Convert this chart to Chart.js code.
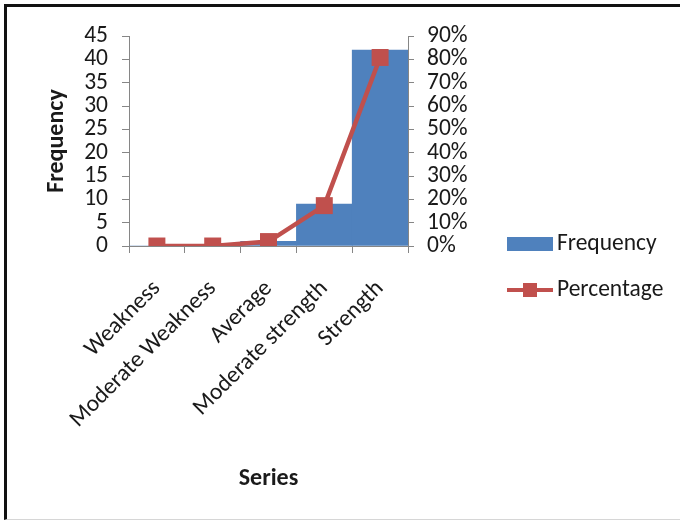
<!DOCTYPE html>
<html>
<head>
<meta charset="utf-8">
<script src="https://cdn.jsdelivr.net/npm/chart.js@4/dist/chart.umd.min.js"></script>
<style>
  html, body { margin: 0; padding: 0; background: #fff; }
  #wrap { position: relative; width: 680px; height: 522px; overflow: hidden; background: #fff; }
  #wrap canvas { position: absolute; left: 0; top: 0; }
  #frame {
    position: absolute; left: 4px; top: 4px; width: 676px; height: 516px;
    box-sizing: border-box;
    border-top: 3px solid #111; border-left: 3px solid #111;
    border-bottom: 1px solid #d6d6d6;
    pointer-events: none;
  }
</style>
</head>
<body>
<div id="wrap">
  <canvas id="chart" width="680" height="522"></canvas>
  <div id="frame"></div>
</div>
<script>
// Rating categories and their counts / cumulative shares
const categories = ['Weakness', 'Moderate Weakness', 'Average', 'Moderate strength', 'Strength'];
const frequency = [0, 0, 1, 9, 42];
const percentage = [0, 0, 1.9, 17.3, 80.8];

// Axis tick ranges
const freqAxis = { min: 0, max: 45, step: 5 };
const pctAxis = { min: 0, max: 90, step: 10 };

const FONT = 'Carlito, Lato, "Liberation Sans", sans-serif';
const TICK_SIZE = 23.5;
const TITLE_SIZE = 24;
const AXIS_GREY = '#868686';
const TEXT = '#1a1a1a';
const BLUE = '#4F81BD';
const RED = '#C0504D';

// Legend drawn to the right of the plot, one row per dataset
const sideLegend = {
  id: 'sideLegend',
  afterDraw(chart) {
    const ctx = chart.ctx;
    const x0 = chart.chartArea.right + 99;
    const rows = [244, 290];
    ctx.save();
    ctx.font = TICK_SIZE + 'px ' + FONT;
    ctx.textBaseline = 'middle';
    ctx.textAlign = 'left';
    chart.data.datasets.slice().sort((a, b) => b.order - a.order).forEach((ds, i) => {
      const y = rows[i];
      if (ds.type === 'bar') {
        ctx.fillStyle = ds.backgroundColor;
        ctx.fillRect(x0, y - 7, 46, 14);
      } else {
        ctx.strokeStyle = ds.borderColor;
        ctx.lineWidth = 4;
        ctx.beginPath();
        ctx.moveTo(x0, y);
        ctx.lineTo(x0 + 46, y);
        ctx.stroke();
        ctx.fillStyle = ds.pointBackgroundColor;
        ctx.fillRect(x0 + 23 - 7, y - 7, 14, 14);
      }
      ctx.fillStyle = TEXT;
      ctx.fillText(ds.label, x0 + 50, y);
    });
    ctx.restore();
  }
};

new Chart(document.getElementById('chart'), {
  data: {
    labels: categories,
    datasets: [
      {
        type: 'bar',
        label: 'Frequency',
        data: frequency,
        yAxisID: 'y',
        backgroundColor: BLUE,
        borderWidth: 0,
        barPercentage: 1,
        categoryPercentage: 1,
        order: 2
      },
      {
        type: 'line',
        label: 'Percentage',
        data: percentage,
        yAxisID: 'y1',
        borderColor: RED,
        borderWidth: 4.5,
        pointStyle: 'rect',
        pointRadius: 12,
        pointBackgroundColor: RED,
        pointBorderColor: RED,
        pointBorderWidth: 0,
        tension: 0,
        order: 1
      }
    ]
  },
  options: {
    responsive: false,
    animation: false,
    devicePixelRatio: 1,
    layout: { padding: { left: 40, top: 36, right: 182, bottom: 22 } },
    plugins: {
      legend: { display: false },
      tooltip: { enabled: false }
    },
    scales: {
      x: {
        offset: true,
        grid: { offset: true, drawOnChartArea: false, drawTicks: true, tickLength: 7, color: AXIS_GREY },
        border: { color: AXIS_GREY, width: 1 },
        ticks: {
          autoSkip: false, minRotation: 45, maxRotation: 45, padding: 22,
          color: TEXT, font: { family: FONT, size: TICK_SIZE }
        },
        title: {
          display: true, text: 'Series', color: TEXT,
          font: { family: FONT, size: TITLE_SIZE, weight: 'bold' }, padding: { top: 0, bottom: 7 }
        },
        afterFit(scale) { scale.height = 254; }
      },
      y: {
        position: 'left',
        min: freqAxis.min, max: freqAxis.max,
        grid: { drawOnChartArea: false, drawTicks: true, tickLength: 7, color: AXIS_GREY },
        border: { color: AXIS_GREY, width: 1 },
        ticks: {
          stepSize: freqAxis.step, autoSkip: false, padding: 14,
          color: TEXT, font: { family: FONT, size: TICK_SIZE }
        },
        title: {
          display: true, text: 'Frequency', color: TEXT,
          font: { family: FONT, size: TITLE_SIZE, weight: 'bold' }, padding: { top: 3, bottom: 0 }
        },
        afterFit(scale) { scale.width = 89; }
      },
      y1: {
        position: 'right',
        min: pctAxis.min, max: pctAxis.max,
        grid: { drawOnChartArea: false, drawTicks: true, tickLength: 6, color: AXIS_GREY },
        border: { color: AXIS_GREY, width: 1 },
        ticks: {
          stepSize: pctAxis.step, autoSkip: false, padding: 13,
          color: TEXT, font: { family: FONT, size: TICK_SIZE },
          callback: v => v + '%'
        },
        afterFit(scale) { scale.width = 90; }
      }
    }
  },
  plugins: [sideLegend]
});
</script>
</body>
</html>
